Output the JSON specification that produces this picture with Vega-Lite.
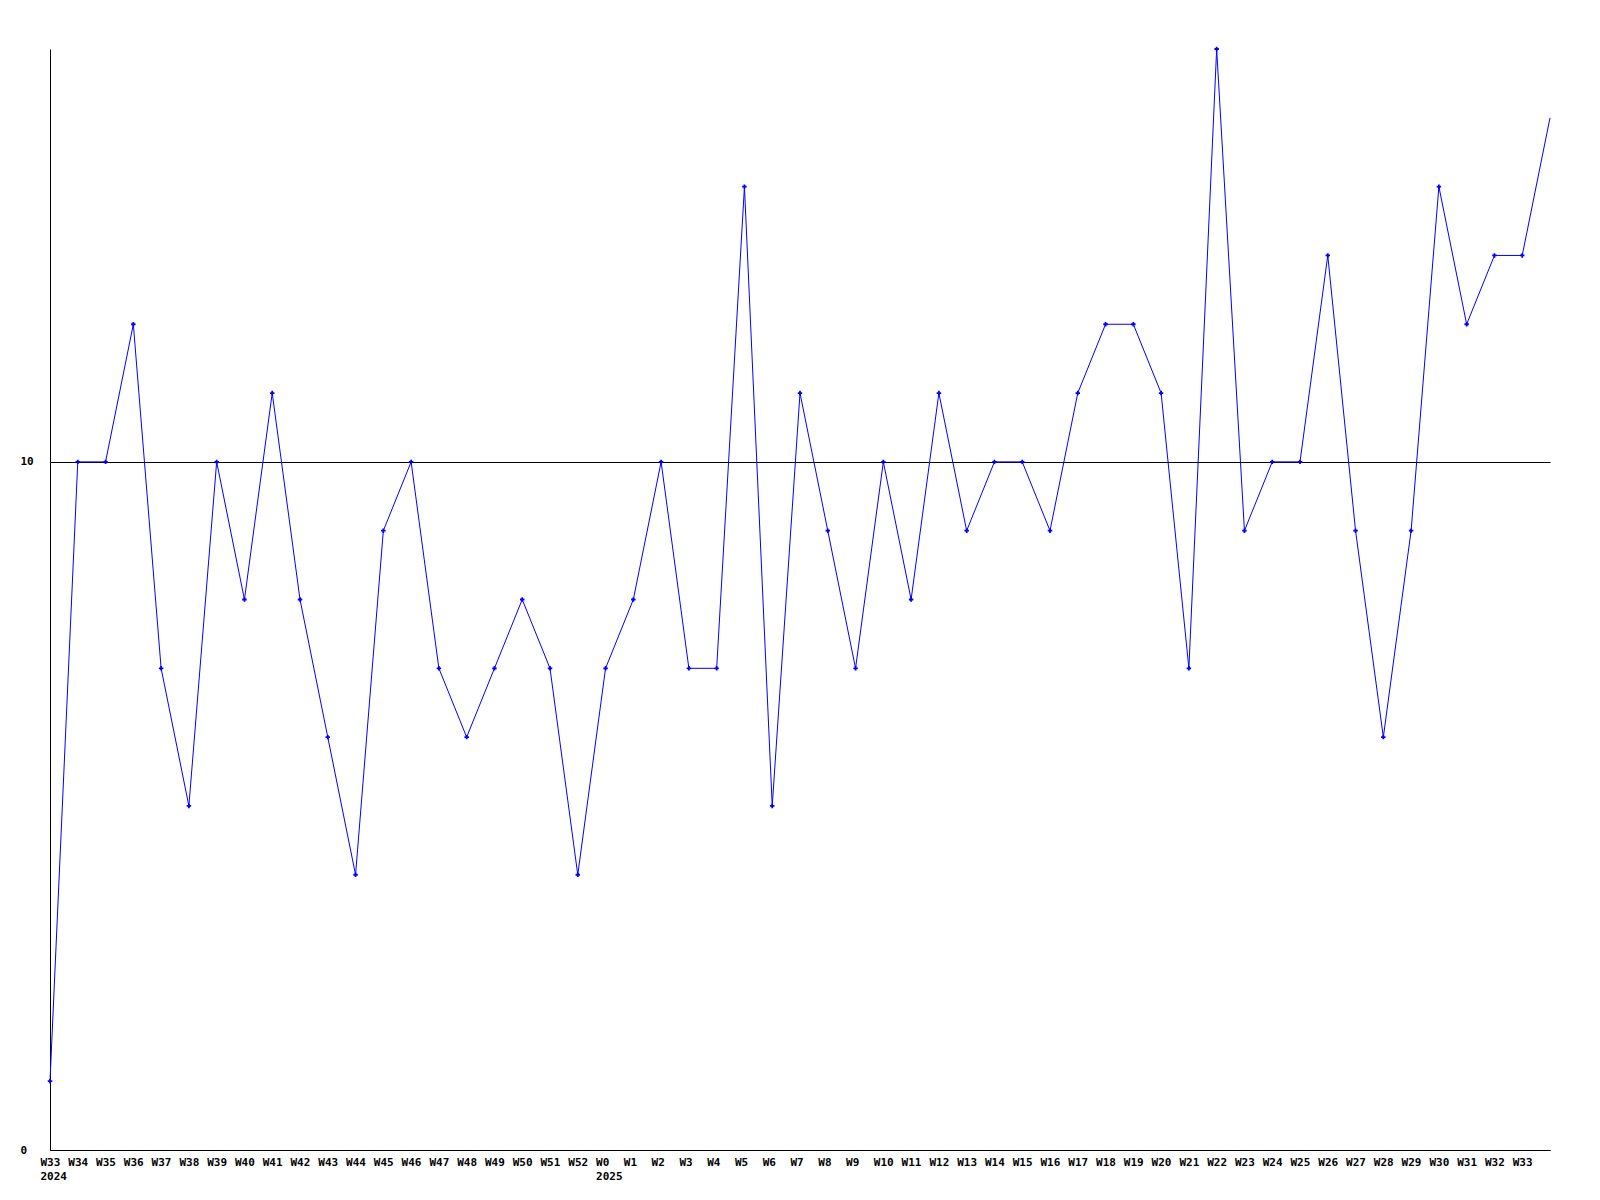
{
  "$schema": "https://vega.github.io/schema/vega-lite/v6.json",
  "width": 1500,
  "height": 1101,
  "autosize": {"type": "none"},
  "padding": {"left": 50, "top": 49, "right": 50, "bottom": 50},
  "background": "white",
  "config": {"view": {"stroke": null}},
  "data": {"values": [
    {"week": "2024-W33", "count": 1},
    {"week": "2024-W34", "count": 10},
    {"week": "2024-W35", "count": 10},
    {"week": "2024-W36", "count": 12},
    {"week": "2024-W37", "count": 7},
    {"week": "2024-W38", "count": 5},
    {"week": "2024-W39", "count": 10},
    {"week": "2024-W40", "count": 8},
    {"week": "2024-W41", "count": 11},
    {"week": "2024-W42", "count": 8},
    {"week": "2024-W43", "count": 6},
    {"week": "2024-W44", "count": 4},
    {"week": "2024-W45", "count": 9},
    {"week": "2024-W46", "count": 10},
    {"week": "2024-W47", "count": 7},
    {"week": "2024-W48", "count": 6},
    {"week": "2024-W49", "count": 7},
    {"week": "2024-W50", "count": 8},
    {"week": "2024-W51", "count": 7},
    {"week": "2024-W52", "count": 4},
    {"week": "2025-W0", "count": 7},
    {"week": "2025-W1", "count": 8},
    {"week": "2025-W2", "count": 10},
    {"week": "2025-W3", "count": 7},
    {"week": "2025-W4", "count": 7},
    {"week": "2025-W5", "count": 14},
    {"week": "2025-W6", "count": 5},
    {"week": "2025-W7", "count": 11},
    {"week": "2025-W8", "count": 9},
    {"week": "2025-W9", "count": 7},
    {"week": "2025-W10", "count": 10},
    {"week": "2025-W11", "count": 8},
    {"week": "2025-W12", "count": 11},
    {"week": "2025-W13", "count": 9},
    {"week": "2025-W14", "count": 10},
    {"week": "2025-W15", "count": 10},
    {"week": "2025-W16", "count": 9},
    {"week": "2025-W17", "count": 11},
    {"week": "2025-W18", "count": 12},
    {"week": "2025-W19", "count": 12},
    {"week": "2025-W20", "count": 11},
    {"week": "2025-W21", "count": 7},
    {"week": "2025-W22", "count": 16},
    {"week": "2025-W23", "count": 9},
    {"week": "2025-W24", "count": 10},
    {"week": "2025-W25", "count": 10},
    {"week": "2025-W26", "count": 13},
    {"week": "2025-W27", "count": 9},
    {"week": "2025-W28", "count": 6},
    {"week": "2025-W29", "count": 9},
    {"week": "2025-W30", "count": 14},
    {"week": "2025-W31", "count": 12},
    {"week": "2025-W32", "count": 13},
    {"week": "2025-W33", "count": 13},
    {"week": "end", "count": 15}
  ]},
  "encoding": {
    "x": {
      "field": "week",
      "type": "ordinal",
      "sort": null,
      "scale": {"type": "point", "padding": 0},
      "axis": {
        "title": null,
        "ticks": false,
        "domainColor": "black",
        "domainWidth": 1,
        "labelAngle": 0,
        "labelAlign": "left",
        "labelOffset": -10,
        "labelBaseline": "top",
        "labelPadding": 6,
        "labelFont": "DejaVu Sans Mono",
        "labelFontWeight": "bold",
        "labelFontSize": 11,
        "labelColor": "black",
        "labelLineHeight": 14,
        "labelOverlap": false,
        "labelExpr": "datum.value == '2024-W33' ? ['W33', '2024'] : datum.value == '2025-W0' ? ['W0', '2025'] : datum.value == 'end' ? '' : split(datum.value, '-')[1]"
      }
    },
    "y": {
      "field": "count",
      "type": "quantitative",
      "scale": {"domain": [0, 16], "nice": false, "zero": true},
      "axis": {
        "title": null,
        "values": [0, 10],
        "ticks": false,
        "grid": true,
        "gridColor": "black",
        "gridOpacity": 1,
        "gridWidth": 1,
        "domainColor": "black",
        "domainWidth": 1,
        "labelAlign": "left",
        "labelPadding": 30,
        "labelFont": "DejaVu Sans Mono",
        "labelFontWeight": "bold",
        "labelFontSize": 11,
        "labelColor": "black"
      }
    }
  },
  "layer": [
    {"mark": {"type": "line", "color": "#0000ff", "strokeWidth": 1}},
    {
      "transform": [{"filter": "datum.week != 'end'"}],
      "mark": {"type": "point", "shape": "cross", "filled": true, "color": "#0000ff", "size": 20, "opacity": 1}
    }
  ]
}
